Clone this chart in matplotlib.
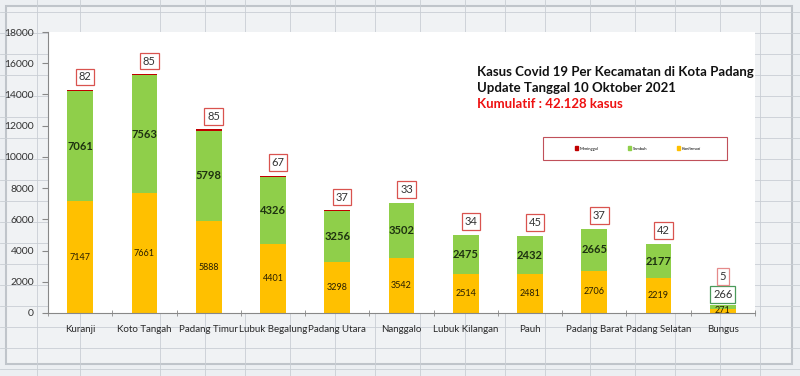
import numpy as np
import matplotlib.pyplot as plt
from matplotlib.patches import Patch

plt.rcParams['font.family'] = ['Lato', 'DejaVu Sans']

kecamatan = ["Kuranji", "Koto Tangah", "Padang Timur", "Lubuk Begalung", "Padang Utara",
             "Nanggalo", "Lubuk Kilangan", "Pauh", "Padang Barat", "Padang Selatan", "Bungus"]
konfirmasi = [7147, 7661, 5888, 4401, 3298, 3542, 2514, 2481, 2706, 2219, 271]
sembuh = [7061, 7563, 5798, 4326, 3256, 3502, 2475, 2432, 2665, 2177, 266]
meninggal = [82, 85, 85, 67, 37, 33, 34, 45, 37, 42, 5]

c_kon = "#FFC000"
c_sem = "#8FCF4A"
c_men = "#C00000"

W, H = 800, 376
fig = plt.figure(figsize=(W / 100, H / 100), dpi=100)
fig.patch.set_facecolor("#eceff2")

# excel-ish sheet background
bg = fig.add_axes([0, 0, 1, 1])
bg.set_xlim(0, W)
bg.set_ylim(H, 0)
bg.set_facecolor("#eceff2")
for gx in [37, 80, 160, 205, 245, 290, 335, 375, 420, 465, 505, 545, 590, 635, 675, 720, 760]:
    bg.axvline(gx, color="#c9ced4", lw=0.6)
for gy in range(12, H, 21):
    bg.axhline(gy, color="#c9ced4", lw=0.6)
bg.add_patch(plt.Rectangle((6, 6), 786, 358, fill=True, fc="#f1f3f5", ec="#b8bdc3",
                           lw=1.5, alpha=0.85))
bg.axis("off")

ax = fig.add_axes([48 / W, 1 - 313 / H, (755 - 48) / W, (313 - 32) / H])
ax.set_facecolor("white")
x = np.arange(len(kecamatan))
kon = np.array(konfirmasi)
sem = np.array(sembuh)
men = np.array(meninggal)
bw = 0.4
ax.bar(x, kon, bw, color=c_kon, zorder=2)
ax.bar(x, sem, bw, bottom=kon, color=c_sem, zorder=2)
ax.bar(x, men, bw, bottom=kon + sem, color=c_men, zorder=2)

ax.set_xlim(-0.5, len(kecamatan) - 0.5)
ax.set_ylim(0, 18000)
ax.set_yticks(np.arange(0, 18001, 2000))
ax.set_xticks(x)
ax.set_xticklabels(kecamatan, fontsize=7, color="#2a2a2a")
ax.set_xticks(np.arange(-0.5, len(kecamatan), 1), minor=True)
ax.tick_params(axis="x", which="major", length=0, pad=9)
ax.tick_params(axis="x", which="minor", length=4, color="#888888", direction="inout")
ax.tick_params(axis="y", labelsize=7.5, colors="#333333", length=4, color="#888888", pad=6)
for s in ["top", "right"]:
    ax.spines[s].set_visible(False)
for s in ["left", "bottom"]:
    ax.spines[s].set_color("#888888")
    ax.spines[s].set_linewidth(0.8)

for i in range(len(kecamatan)):
    ax.text(x[i], kon[i] / 2, str(kon[i]), ha="center", va="center", fontsize=6.5,
            color="#2a1f00", zorder=3)
    top = kon[i] + sem[i] + men[i]
    if i < len(kecamatan) - 1:
        ax.text(x[i], kon[i] + sem[i] / 2, str(sem[i]), ha="center", va="center", fontsize=8,
                fontweight="bold", color="#1e3210", zorder=3)
        ax.annotate(str(men[i]), (x[i], top), xytext=(5, 13),
                    textcoords="offset pixels", ha="center", va="center", fontsize=8,
                    color="#333333",
                    bbox=dict(boxstyle="square,pad=0.25", fc="white", ec="#d9534f", lw=0.9))
    else:
        ax.annotate(str(sem[i]), (x[i], top), xytext=(0, 10),
                    textcoords="offset pixels", ha="center", va="center", fontsize=8,
                    color="#333333",
                    bbox=dict(boxstyle="square,pad=0.25", fc="white", ec="#4a9a5a", lw=0.9))
        ax.annotate(str(men[i]), (x[i], top), xytext=(0, 28),
                    textcoords="offset pixels", ha="center", va="center", fontsize=8,
                    color="#333333",
                    bbox=dict(boxstyle="square,pad=0.25", fc="white", ec="#e58a8a", lw=0.9))

fig.text(477 / W, 1 - 72 / H, "Kasus Covid 19 Per Kecamatan di Kota Padang", fontsize=9.5,
         fontweight="bold", color="#111111", va="center", ha="left")
fig.text(477 / W, 1 - 88 / H, "Update Tanggal 10 Oktober 2021", fontsize=9.5,
         fontweight="bold", color="#111111", va="center", ha="left")
fig.text(477 / W, 1 - 104 / H, "Kumulatif : 42.128 kasus", fontsize=9.5,
         fontweight="bold", color="#ee1111", va="center", ha="left")

# legend frame + entries
frame = plt.Rectangle((543, 137), 184, 23, fc="white", ec="#c0505a", lw=0.8,
                      transform=bg.transData, zorder=5)
fig.add_artist(frame)
handles = [Patch(color=c_men, label="Meninggal"), Patch(color=c_sem, label="Sembuh"),
           Patch(color=c_kon, label="Konfirmasi")]
leg = fig.legend(handles=handles, loc="center", ncol=3, fontsize=3,
                 bbox_to_anchor=(638 / W, 1 - 148.5 / H), frameon=False,
                 handlelength=0.8, handleheight=0.8, handletextpad=0.4, columnspacing=7)
leg.set_zorder(10)

fig.savefig("out.png", dpi=100)
